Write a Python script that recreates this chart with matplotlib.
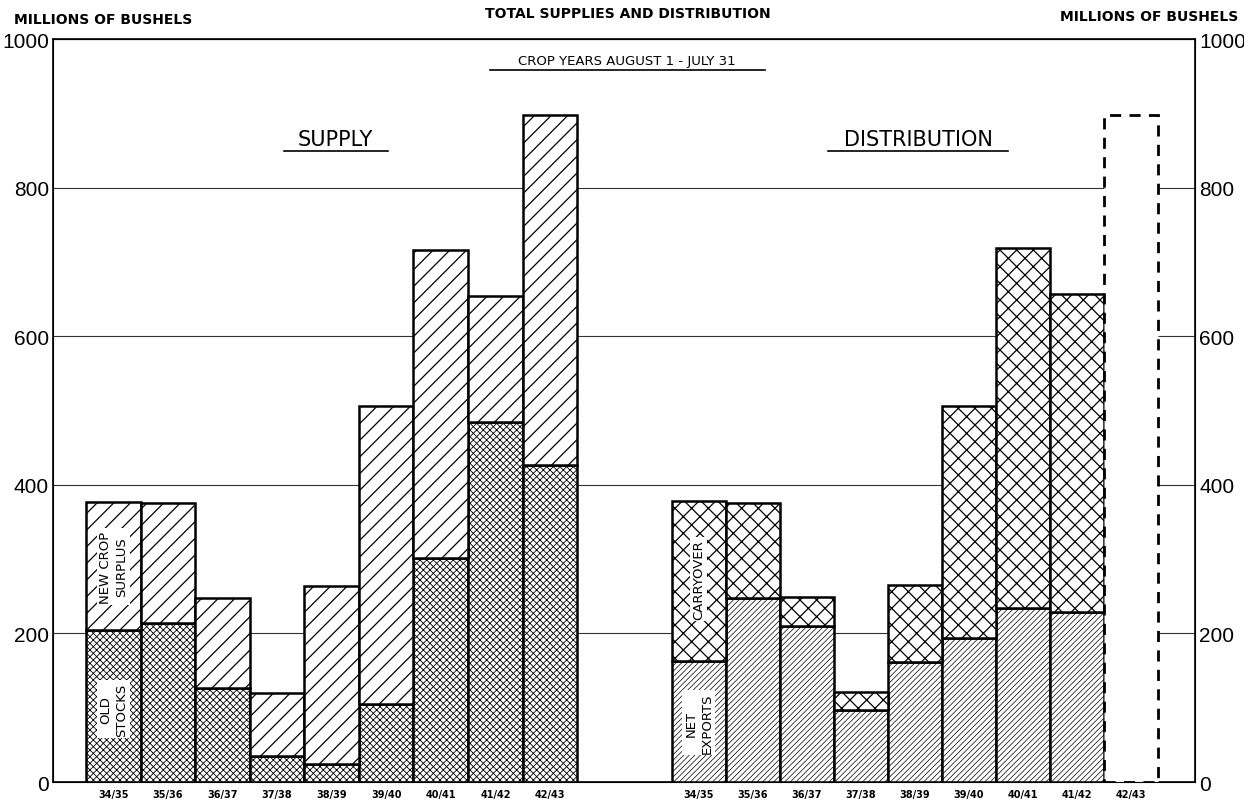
import matplotlib.pyplot as plt
import numpy as np

plt.rcParams['font.family'] = ['DejaVu Sans']
plt.rcParams['hatch.linewidth'] = 0.9

# crop years and values (millions of bushels)
years = ['34/35', '35/36', '36/37', '37/38', '38/39', '39/40', '40/41', '41/42', '42/43']
old_stocks = [205, 214, 127, 35, 24, 105, 301, 485, 427]
supply_total = [377, 375, 248, 120, 264, 506, 716, 654, 898]
net_exports = [163, 248, 210, 97, 161, 194, 234, 229]
dist_total = [378, 375, 249, 121, 265, 506, 719, 657]
dist_estimate = 898  # 42/43 shown as dashed outline only

new_crop = [t - o for t, o in zip(supply_total, old_stocks)]
carryover = [t - n for t, n in zip(dist_total, net_exports)]

fig = plt.figure(figsize=(12.44, 8.03), dpi=100)
ax = fig.add_axes([0.0426, 0.0249, 0.918, 0.925])

x_sup = 1.104 + np.arange(len(years))
x_dis = 11.83 + 0.99 * np.arange(len(years))
w = 1.0
wd = 0.99
ec = 'black'
lw = 1.8

with plt.rc_context({'hatch.linewidth': 0.6}):
    ax.bar(x_sup, old_stocks, w, color='white', edgecolor=ec, hatch='xxxxx', linewidth=lw,
           zorder=3)
ax.bar(x_sup, new_crop, w, bottom=old_stocks, color='white', edgecolor=ec, hatch='//',
       linewidth=lw, zorder=3)

with plt.rc_context({'hatch.linewidth': 0.5}):
    ax.bar(x_dis[:8], net_exports, wd, color='white', edgecolor=ec, hatch='//////',
           linewidth=lw, zorder=3)
ax.bar(x_dis[:8], carryover, wd, bottom=net_exports, color='white', edgecolor=ec, hatch='xx',
       linewidth=lw, zorder=3)
ax.bar(x_dis[8], dist_estimate, wd, color='white', edgecolor=ec, linestyle=(0, (4, 3)),
       linewidth=2.0, zorder=3)

ax.set_xlim(0, 20.92)
ax.set_ylim(0, 1000)
ax.set_yticks([0, 200, 400, 600, 800, 1000])
ax.grid(axis='y', color='#333333', linewidth=0.8, zorder=0)
ax.set_xticks(np.concatenate([x_sup, x_dis]))
ax.set_xticklabels(years + years, fontsize=7, fontweight='bold')
ax.tick_params(axis='x', length=0, pad=5)
ax.tick_params(axis='y', length=0, pad=3, labelsize=15)
for sp in ax.spines.values():
    sp.set_linewidth(1.2)

ax2 = ax.twinx()
ax2.set_ylim(0, 1000)
ax2.set_yticks([0, 200, 400, 600, 800, 1000])
ax2.tick_params(axis='y', length=0, pad=3, labelsize=15)
for t in ax.get_yticklabels() + ax2.get_yticklabels():
    t.set_fontfamily(['Liberation Sans', 'DejaVu Sans'])

# labels inside the first bars
box = dict(facecolor='white', edgecolor='none', pad=1.5)
ax.text(x_sup[0], 290, 'NEW CROP\nSURPLUS', rotation=90, ha='center', va='center',
        fontsize=9.5, linespacing=1.3, bbox=box, zorder=5)
ax.text(x_sup[0], 98, 'OLD\nSTOCKS', rotation=90, ha='center', va='center',
        fontsize=9.5, linespacing=1.3, bbox=box, zorder=5)
ax.text(x_dis[0], 273, 'CARRYOVER', rotation=90, ha='center', va='center',
        fontsize=9.5, bbox=box, zorder=5)
ax.text(x_dis[0], 80, 'NET\nEXPORTS', rotation=90, ha='center', va='center',
        fontsize=9.5, linespacing=1.3, bbox=box, zorder=5)

# headings with underlines
def heading(xc, y, s, size, x0, x1, yl):
    ax.text(xc, y, s, ha='center', va='center', fontsize=size, transform=ax.transAxes)
    ax.plot([x0, x1], [yl, yl], color='black', lw=1.2, transform=ax.transAxes, clip_on=False)

heading(0.2475, 0.866, 'SUPPLY', 15, 0.2025, 0.2935, 0.850)
heading(0.7575, 0.866, 'DISTRIBUTION', 15, 0.6790, 0.8365, 0.850)
heading(0.5025, 0.972, 'CROP YEARS AUGUST 1 - JULY 31', 9.5, 0.3825, 0.6235, 0.959)

fig.text(0.505, 0.983, 'TOTAL SUPPLIES AND DISTRIBUTION', ha='center', va='center',
         fontsize=10, fontweight='bold')
fig.text(0.011, 0.975, 'MILLIONS OF BUSHELS', ha='left', va='center', fontsize=10, fontweight='bold')
fig.text(0.995, 0.979, 'MILLIONS OF BUSHELS', ha='right', va='center', fontsize=10, fontweight='bold')

fig.savefig('out.png', dpi=100)
